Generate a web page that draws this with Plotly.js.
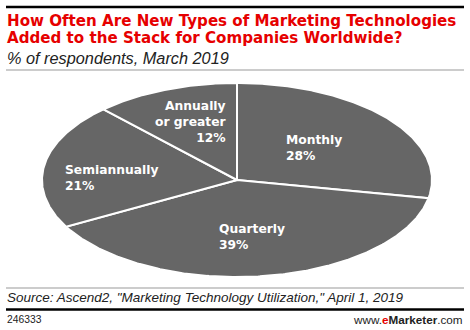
<!DOCTYPE html>
<html><head><meta charset="utf-8">
<script src="https://cdn.plot.ly/plotly-3.0.1.min.js"></script>
<style>html,body{margin:0;padding:0;background:#fff}#chart{width:470px;height:330px}</style>
</head><body><div id="chart"></div>
<script>
// ---- data ----
const categories = ["Monthly", "Quarterly", "Semiannually", "Annually<br>or greater"];
const values = [28, 39, 21, 12];

// ---- geometry / style (not data) ----
const W = 470, H = 330;
const cx = 237, cy = 180, rx = 195, ry = 97;
const labelR = [0.51, 0.60, 0.64, 0.64];
const labelAlign = ["left", "left", "left", "right"];
const labelShift = [[0,0],[-3,0],[-2,8],[0,0]];
const sliceColor = "#666666";

const total = values.reduce((a,b)=>a+b,0);
const traces = [];
const annotations = [];
let cum = 0;
function pt(deg, r){
  const t = deg*Math.PI/180;
  return [cx + r*rx*Math.sin(t), cy - r*ry*Math.cos(t)];
}
values.forEach((v,i)=>{
  const a0 = cum/total*360, a1 = (cum+v)/total*360;
  const xs=[cx], ys=[cy];
  const n = Math.max(2, Math.ceil((a1-a0)/0.5));
  for(let k=0;k<=n;k++){ const p = pt(a0+(a1-a0)*k/n, 1); xs.push(p[0]); ys.push(p[1]); }
  xs.push(cx); ys.push(cy);
  traces.push({type:"scatter", mode:"lines", x:xs, y:ys, fill:"toself", fillcolor:sliceColor,
    line:{color:"#ffffff", width:2}, hoverinfo:"skip", showlegend:false});
  const mid = (a0+a1)/2;
  const lp = pt(mid, labelR[i]);
  annotations.push({x:lp[0], y:lp[1], xref:"x", yref:"y", showarrow:false,
    text:"<b>"+categories[i]+"<br>"+v+"%</b>", align:labelAlign[i],
    xshift:labelShift[i][0], yshift:-labelShift[i][1],
    font:{family:"DejaVu Sans", size:12.3, color:"#ffffff"}});
  cum += v;
});

const titleFont = {family:"DejaVu Sans", size:15.1, color:"#e60000"};
annotations.push(
  {x:5, y:21, xref:"x", yref:"y", xanchor:"left", yanchor:"middle", showarrow:false,
   text:"<b>How Often Are New Types of Marketing Technologies</b>", font:titleFont},
  {x:5, y:38, xref:"x", yref:"y", xanchor:"left", yanchor:"middle", showarrow:false,
   text:"<b>Added to the Stack for Companies Worldwide?</b>", font:titleFont},
  {x:5, y:58, xref:"x", yref:"y", xanchor:"left", yanchor:"middle", showarrow:false,
   text:"<i>% of respondents, March 2019</i>", font:{family:"Liberation Sans", size:16.3, color:"#222"}},
  {x:5, y:297.5, xref:"x", yref:"y", xanchor:"left", yanchor:"middle", showarrow:false,
   text:"<i>Source: Ascend2, \"Marketing Technology Utilization,\" April 1, 2019</i>", font:{family:"Liberation Sans", size:13.5, color:"#222"}},
  {x:5, y:319, xref:"x", yref:"y", xanchor:"left", yanchor:"middle", showarrow:false,
   text:"246333", font:{family:"Liberation Sans", size:10.3, color:"#222"}},
  {x:465, y:319, xref:"x", yref:"y", xanchor:"right", yanchor:"middle", showarrow:false,
   text:"www.<b><span style=\"color:#e60000\">e</span>Marketer</b>.com", font:{family:"Liberation Sans", size:11.7, color:"#222"}}
);

const shapes = [
  {type:"line", xref:"x", yref:"y", x0:6, x1:464, y0:7, y1:7, line:{color:"#000", width:2.5}},
  {type:"line", xref:"x", yref:"y", x0:6, x1:464, y0:70, y1:70, line:{color:"#999", width:1}},
  {type:"line", xref:"x", yref:"y", x0:6, x1:464, y0:288, y1:288, line:{color:"#999", width:1}},
  {type:"line", xref:"x", yref:"y", x0:6, x1:464, y0:309.5, y1:309.5, line:{color:"#000", width:2.5}}
];

const layout = {
  width:W, height:H, margin:{l:0,r:0,t:0,b:0}, paper_bgcolor:"#fff", plot_bgcolor:"#fff",
  xaxis:{range:[0,W], visible:false, fixedrange:true},
  yaxis:{range:[H,0], visible:false, fixedrange:true},
  annotations, shapes, showlegend:false, hovermode:false
};
Plotly.newPlot("chart", traces, layout, {displayModeBar:false, staticPlot:true});
</script></body></html>
